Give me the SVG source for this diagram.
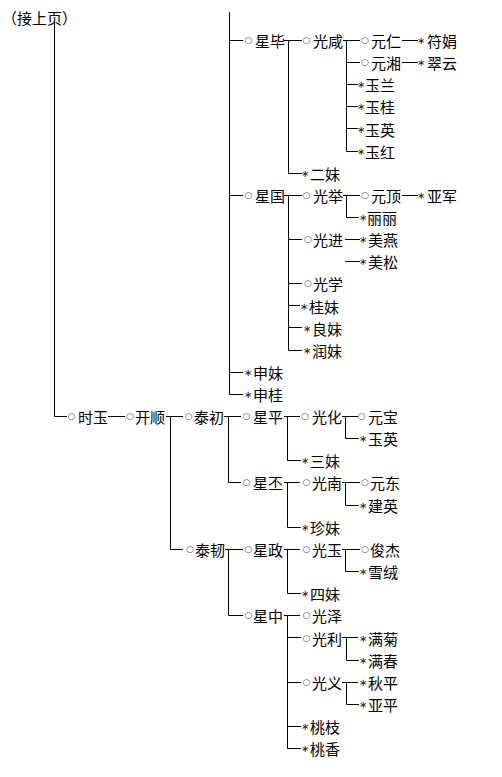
<svg xmlns="http://www.w3.org/2000/svg" width="502" height="777" viewBox="0 0 502 777">
<style>
text{font-family:"Noto Sans CJK SC","Noto Sans CJK JP",sans-serif;font-size:15px;fill:#000;dominant-baseline:central}
.o{font-family:"DejaVu Sans",sans-serif;font-size:9px;fill:#555;text-anchor:middle}
.s{font-family:"DejaVu Sans",sans-serif;font-size:10px;fill:#222;text-anchor:middle}
#connectors path{fill:none;stroke:#000;stroke-width:1}
</style>
<rect width="502" height="777" fill="#fff"/>
<g id="connectors">
<path d="M54.5 21V416.5H67"/>
<path d="M108 416.5H125"/>
<path d="M166 416.5H183M170.5 416.5V549.5H183"/>
<path d="M229.5 12V394.5M229.5 40.5H243M229.5 195.5H243M229.5 372.5H243M229.5 394.5H243"/>
<path d="M224 416.5H241M228.5 416.5V482.5H241"/>
<path d="M225 549.5H243M228.5 549.5V615.5H243"/>
<path d="M284 40.5H302M288.5 40.5V173.5H302"/>
<path d="M343 40.5H360M346.5 40.5V151.5H358M346.5 62.5H360M346.5 84.5H358M346.5 106.5H358M346.5 128.5H358"/>
<path d="M402 40.5H418M402 62.5H418"/>
<path d="M284 195.5H302M288.5 195.5V350.5H302M288.5 239.5H302M288.5 283.5H302M288.5 305.5H300M288.5 327.5H302"/>
<path d="M343 195.5H360M346.5 195.5V217.5H359"/>
<path d="M402 195.5H418"/>
<path d="M345 239.5H360M345 261.5H360"/>
<path d="M284 416.5H300M287.5 416.5V460.5H301"/>
<path d="M342 416.5H358M345.5 416.5V438.5H359"/>
<path d="M284 482.5H300M287.5 482.5V527.5H301"/>
<path d="M342 482.5H360M345.5 482.5V505.5H359"/>
<path d="M284 549.5H300M287.5 549.5V593.5H301"/>
<path d="M342 549.5H360M345.5 549.5V571.5H359"/>
<path d="M284 615.5H300M287.5 615.5V748.5H301M287.5 637.5H301M287.5 682.5H301M287.5 726.5H301"/>
<path d="M342 637.5H358M346.5 637.5V660.5H359"/>
<path d="M342 682.5H358M346.5 682.5V704.5H359"/>
</g>
<g id="n-jieshangye"><text x="2" y="17">（接上页）</text></g>
<g id="n-shiyu"><text y="416"><tspan class="o" x="71.5">○</tspan><tspan x="78">时玉</tspan></text></g>
<g id="n-kaishun"><text y="416"><tspan class="o" x="130">○</tspan><tspan x="135">开顺</tspan></text></g>
<g id="n-taichu1"><text y="416"><tspan class="o" x="188.5">○</tspan><tspan x="194">泰初</tspan></text></g>
<g id="n-taichu2"><text y="549"><tspan class="o" x="190">○</tspan><tspan x="195">泰韧</tspan></text></g>
<g id="n-xingbi"><text y="40"><tspan class="o" x="248.5">○</tspan><tspan x="255">星毕</tspan></text></g>
<g id="n-guangxian"><text y="40"><tspan class="o" x="306.5">○</tspan><tspan x="313">光咸</tspan></text></g>
<g id="n-yuanren"><text y="40"><tspan class="o" x="365">○</tspan><tspan x="371">元仁</tspan></text></g>
<g id="n-fujuan"><text y="40"><tspan class="s" x="421">∗</tspan><tspan x="427">符娟</tspan></text></g>
<g id="n-yuanxiang"><text y="62"><tspan class="o" x="365">○</tspan><tspan x="371">元湘</tspan></text></g>
<g id="n-cuiyun"><text y="62"><tspan class="s" x="421">∗</tspan><tspan x="427">翠云</tspan></text></g>
<g id="n-yulan"><text y="84"><tspan class="s" x="361">∗</tspan><tspan x="365">玉兰</tspan></text></g>
<g id="n-yugui"><text y="106"><tspan class="s" x="361">∗</tspan><tspan x="365">玉桂</tspan></text></g>
<g id="n-yuying1"><text y="128.5"><tspan class="s" x="361">∗</tspan><tspan x="365">玉英</tspan></text></g>
<g id="n-yuhong"><text y="150.5"><tspan class="s" x="361">∗</tspan><tspan x="365">玉红</tspan></text></g>
<g id="n-ermei"><text y="172.5"><tspan class="s" x="305">∗</tspan><tspan x="310">二妹</tspan></text></g>
<g id="n-xingguo"><text y="195"><tspan class="o" x="248.5">○</tspan><tspan x="255">星国</tspan></text></g>
<g id="n-guangju"><text y="195"><tspan class="o" x="306.5">○</tspan><tspan x="313">光举</tspan></text></g>
<g id="n-yuanding"><text y="195"><tspan class="o" x="365">○</tspan><tspan x="371">元顶</tspan></text></g>
<g id="n-yajun"><text y="195"><tspan class="s" x="421">∗</tspan><tspan x="427">亚军</tspan></text></g>
<g id="n-lili"><text y="217"><tspan class="s" x="363">∗</tspan><tspan x="367">丽丽</tspan></text></g>
<g id="n-guangjin"><text y="239"><tspan class="o" x="308">○</tspan><tspan x="313">光进</tspan></text></g>
<g id="n-meiyan"><text y="239"><tspan class="s" x="363">∗</tspan><tspan x="368">美燕</tspan></text></g>
<g id="n-meisong"><text y="261"><tspan class="s" x="363">∗</tspan><tspan x="368">美松</tspan></text></g>
<g id="n-guangxue"><text y="283"><tspan class="o" x="308">○</tspan><tspan x="313">光学</tspan></text></g>
<g id="n-guimei"><text y="305.5"><tspan class="s" x="304">∗</tspan><tspan x="309">桂妹</tspan></text></g>
<g id="n-liangmei"><text y="327.5"><tspan class="s" x="307">∗</tspan><tspan x="312">良妹</tspan></text></g>
<g id="n-runmei"><text y="349.5"><tspan class="s" x="307">∗</tspan><tspan x="312">润妹</tspan></text></g>
<g id="n-shenmei"><text y="372"><tspan class="s" x="248">∗</tspan><tspan x="253">申妹</tspan></text></g>
<g id="n-shengui"><text y="394"><tspan class="s" x="248">∗</tspan><tspan x="253">申桂</tspan></text></g>
<g id="n-xingping"><text y="416"><tspan class="o" x="246.5">○</tspan><tspan x="253">星平</tspan></text></g>
<g id="n-guanghua"><text y="416"><tspan class="o" x="305">○</tspan><tspan x="312">光化</tspan></text></g>
<g id="n-yuanbao"><text y="416"><tspan class="o" x="361.5">○</tspan><tspan x="368">元宝</tspan></text></g>
<g id="n-yuying2"><text y="438"><tspan class="s" x="363">∗</tspan><tspan x="368">玉英</tspan></text></g>
<g id="n-sanmei"><text y="460"><tspan class="s" x="305">∗</tspan><tspan x="310">三妹</tspan></text></g>
<g id="n-xingpi"><text y="482"><tspan class="o" x="246.5">○</tspan><tspan x="253">星丕</tspan></text></g>
<g id="n-guangnan"><text y="482"><tspan class="o" x="306.5">○</tspan><tspan x="312">光南</tspan></text></g>
<g id="n-yuandong"><text y="482"><tspan class="o" x="365">○</tspan><tspan x="370">元东</tspan></text></g>
<g id="n-jianying"><text y="504.5"><tspan class="s" x="363">∗</tspan><tspan x="368">建英</tspan></text></g>
<g id="n-zhenmei"><text y="526.5"><tspan class="s" x="305">∗</tspan><tspan x="310">珍妹</tspan></text></g>
<g id="n-xingzheng"><text y="549"><tspan class="o" x="248.5">○</tspan><tspan x="253">星政</tspan></text></g>
<g id="n-guangyu"><text y="549"><tspan class="o" x="306.5">○</tspan><tspan x="312">光玉</tspan></text></g>
<g id="n-junjie"><text y="549"><tspan class="o" x="365">○</tspan><tspan x="370">俊杰</tspan></text></g>
<g id="n-xuerong"><text y="571"><tspan class="s" x="363">∗</tspan><tspan x="368">雪绒</tspan></text></g>
<g id="n-simei"><text y="593"><tspan class="s" x="305">∗</tspan><tspan x="310">四妹</tspan></text></g>
<g id="n-xingzhong"><text y="615"><tspan class="o" x="248.5">○</tspan><tspan x="253">星中</tspan></text></g>
<g id="n-guangze"><text y="615"><tspan class="o" x="306.5">○</tspan><tspan x="312">光泽</tspan></text></g>
<g id="n-guangli"><text y="637.5"><tspan class="o" x="306.5">○</tspan><tspan x="312">光利</tspan></text></g>
<g id="n-manju"><text y="637.5"><tspan class="s" x="363">∗</tspan><tspan x="368">满菊</tspan></text></g>
<g id="n-manchun"><text y="659.5"><tspan class="s" x="363">∗</tspan><tspan x="368">满春</tspan></text></g>
<g id="n-guangyi"><text y="681.5"><tspan class="o" x="306.5">○</tspan><tspan x="312">光义</tspan></text></g>
<g id="n-qiuping"><text y="681.5"><tspan class="s" x="363">∗</tspan><tspan x="368">秋平</tspan></text></g>
<g id="n-yaping"><text y="704"><tspan class="s" x="363">∗</tspan><tspan x="368">亚平</tspan></text></g>
<g id="n-taozhi"><text y="726"><tspan class="s" x="305">∗</tspan><tspan x="310">桃枝</tspan></text></g>
<g id="n-taoxiang"><text y="748"><tspan class="s" x="305">∗</tspan><tspan x="310">桃香</tspan></text></g>
</svg>
